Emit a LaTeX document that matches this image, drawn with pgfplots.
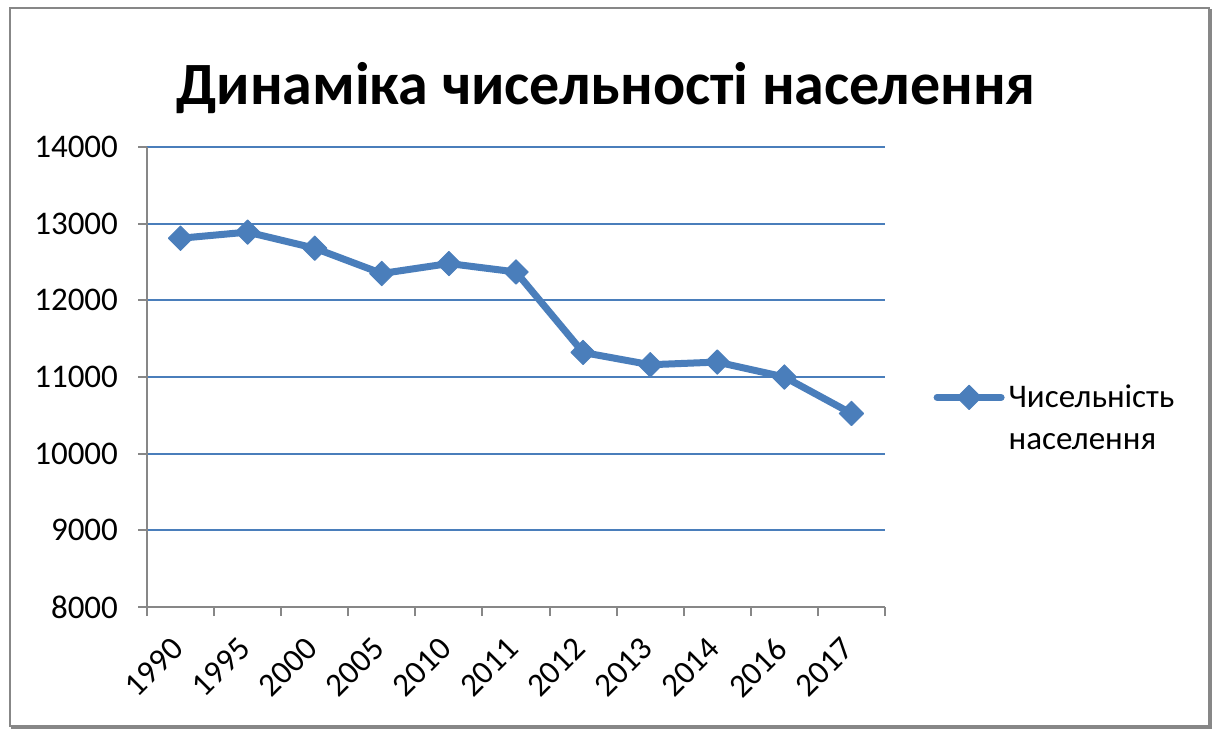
\documentclass[border=0pt]{standalone}
\usepackage{pgfplots}
\pgfplotsset{compat=1.18}
\usepackage{fontspec}
\setmainfont{Carlito}
\definecolor{serie}{HTML}{4A7EBB}
\definecolor{gridblue}{HTML}{4A7EBB}
\definecolor{framegray}{HTML}{878787}

\begin{document}
\begin{tikzpicture}
% canvas: 1 px of the reference = 0.5pt
\path[use as bounding box] (0,0) rectangle (609.5pt,-369pt);
\fill[white] (0,0) rectangle (609.5pt,-369pt);
\draw[framegray, line width=1pt] (5pt,-4pt) rectangle (604.5pt,-363pt);
\draw[framegray, line width=1.2pt] (605.3pt,-4.5pt) -- (605.3pt,-363.8pt) -- (5.5pt,-363.8pt);

\node[font=\bfseries\fontsize{30}{36}\selectfont] at (303pt,-44pt) {Динаміка чисельності населення};

\begin{axis}[
  at={(73.5pt,-303.5pt)}, anchor=south west,
  scale only axis, width=369pt, height=230pt,
  xmin=-0.5, xmax=10.5, ymin=8000, ymax=14000,
  axis lines=left, axis line style={framegray, line width=1pt, -},
  xtick={0,...,10},
  xticklabels={1990,1995,2000,2005,2010,2011,2012,2013,2014,2016,2017},
  minor xtick={-0.5,0.5,...,10.5},
  x tick label style={xshift=-5.4pt, yshift=-5pt, rotate=45, anchor=north east},
  major x tick style={draw=none},
  minor x tick style={framegray, line width=1pt},
  minor tick length=4.5pt,
  ytick={8000,9000,...,14000},
  scaled y ticks=false,
  major tick length=4.5pt,
  tick align=outside,
  y tick style={framegray, line width=1pt},
  xmajorgrids=false, xminorgrids=false,
  ymajorgrids=true, major grid style={draw=gridblue, line width=1pt},
  tick label style={font=\fontsize{16.5}{19}\selectfont},
  y tick label style={xshift=-6.5pt},
  /pgf/number format/assume math mode=true,
  /pgf/number format/1000 sep={},
  clip=false,
  legend style={draw=none, fill=none, at={(1.0653,0.41)}, anchor=west,
    font=\fontsize{16.5}{21}\selectfont, nodes={align=left},
    inner xsep=0pt},
  legend cell align=left,
  legend image code/.code={\draw[mark repeat=2,mark phase=2,yshift=10.5pt,#1] plot coordinates {(0pt,0pt) (16pt,0pt) (32pt,0pt)};},
]
\addplot[serie, line width=3.5pt, line join=round, line cap=round,
  mark=square*, mark size=4.3pt, mark options={rotate=45, line width=0.5pt, fill=serie, solid}]
  coordinates {
  (0,12810) (1,12890) (2,12680) (3,12350) (4,12480) (5,12370)
  (6,11320) (7,11160) (8,11195) (9,11000) (10,10525)
};
\addlegendentry{Чисельність\\населення}
\end{axis}
\end{tikzpicture}
\end{document}
